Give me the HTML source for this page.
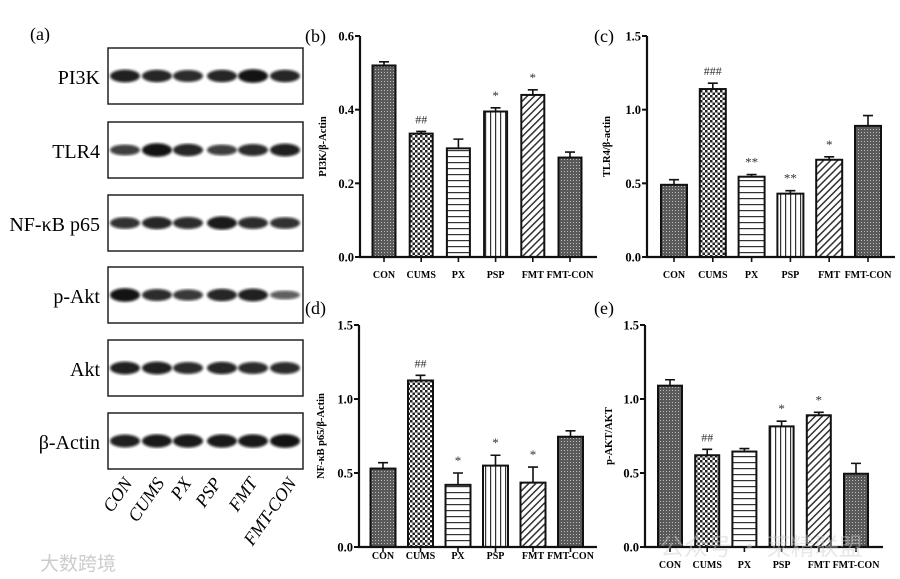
<!DOCTYPE html>
<html><head><meta charset="utf-8"><style>
html,body{margin:0;padding:0;background:#fff;}
svg{display:block;font-family:"Liberation Serif","Noto Serif CJK SC",serif;}
</style></head><body>
<svg id="fig" width="900" height="579" viewBox="0 0 900 579">
<defs>
 <pattern id="pDense" width="3" height="3" patternUnits="userSpaceOnUse"><rect width="3" height="3" fill="#5a5a5a"/><rect width="1" height="1" fill="#bbb"/></pattern>
 <pattern id="pCheck" width="5" height="5" patternUnits="userSpaceOnUse"><rect width="5" height="5" fill="#fff"/><rect width="2.5" height="2.5" fill="#222"/><rect x="2.5" y="2.5" width="2.5" height="2.5" fill="#222"/></pattern>
 <pattern id="pHoriz" width="6" height="6" patternUnits="userSpaceOnUse"><rect width="6" height="6" fill="#fff"/><rect y="0" width="6" height="1.2" fill="#333"/></pattern>
 <pattern id="pVert" width="5" height="5" patternUnits="userSpaceOnUse"><rect width="5" height="5" fill="#fff"/><rect width="1.2" height="5" fill="#333"/></pattern>
 <pattern id="pDiag" width="5" height="5" patternUnits="userSpaceOnUse" patternTransform="rotate(45)"><rect width="5" height="5" fill="#fff"/><rect width="1.5" height="5" fill="#333"/></pattern>
 <filter id="blur"><feGaussianBlur stdDeviation="1.4"/></filter>
</defs>
<g id="blots"></g>
<g id="charts"></g>
<text x="40" y="570" font-size="19" fill="#ccc" font-family="'Noto Sans CJK SC',sans-serif">大数跨境</text>
<text x="660" y="555" font-size="24" fill="#ccc" opacity="0.45" font-family="'Noto Sans CJK SC',sans-serif">公众号 · 莱精联盟</text>
</svg>
<script>
const categories = ["CON","CUMS","PX","PSP","FMT","FMT-CON"];
const pi3kValues = [0.52,0.335,0.295,0.395,0.44,0.27];
const pi3kErrors = [0.01,0.006,0.025,0.01,0.014,0.015];
const pi3kMarks = ["","##","","*","*",""];
const tlr4Values = [0.49,1.14,0.545,0.43,0.66,0.89];
const tlr4Errors = [0.035,0.04,0.015,0.02,0.02,0.07];
const tlr4Marks = ["","###","**","**","*",""];
const nfkbValues = [0.53,1.125,0.42,0.55,0.435,0.745];
const nfkbErrors = [0.04,0.035,0.08,0.07,0.105,0.04];
const nfkbMarks = ["","##","*","*","*",""];
const paktValues = [1.09,0.62,0.645,0.815,0.89,0.495];
const paktErrors = [0.04,0.04,0.02,0.035,0.02,0.07];
const paktMarks = ["","##","","*","*",""];
const ticksB = ["0.0","0.2","0.4","0.6"];
const ticksC = ["0.0","0.5","1.0","1.5"];
const blotNames = ["PI3K","TLR4","NF-κB p65","p-Akt","Akt","β-Actin"];
const blotIntensity = [
 [0.85,0.8,0.75,0.8,0.95,0.8],
 [0.6,0.95,0.8,0.6,0.75,0.85],
 [0.7,0.8,0.75,0.9,0.75,0.7],
 [0.95,0.75,0.65,0.8,0.85,0.35],
 [0.85,0.85,0.75,0.8,0.75,0.75],
 [0.85,0.9,0.9,0.9,0.9,0.95]];

const NS="http://www.w3.org/2000/svg";
function mk(parent,tag,attrs,text){const e=document.createElementNS(NS,tag);for(const k in attrs)e.setAttribute(k,attrs[k]);if(text!==undefined)e.textContent=text;parent.appendChild(e);return e;}
const fills=["url(#pDense)","url(#pCheck)","url(#pHoriz)","url(#pVert)","url(#pDiag)","url(#pDense)"];

function drawChart(cfg){
 const g=mk(document.getElementById('charts'),'g',{});
 
 
 const y=v=>cfg.y0-(v/cfg.max)*(cfg.y0-cfg.yTop);
 const x=i=>cfg.x0+i*cfg.step;
 const t=mk(g,'text',{x:cfg.labelX,y:cfg.labelY,'font-size':18},cfg.panel);
 
 
 cfg.values.forEach((v,i)=>{
  const top=y(v), et=y(v+cfg.errors[i]);
  const b=mk(g,'rect',{x:x(i)-cfg.w/2,y:top,width:cfg.w,height:cfg.y0-top,fill:fills[i],stroke:'#111','stroke-width':2});
  
  
  const e=mk(g,'path',{d:`M${x(i)} ${top}V${et}M${x(i)-5} ${et}H${x(i)+5}`,stroke:'#111','stroke-width':1.6,fill:'none'});
  
  
  if(cfg.marks[i]){const m=mk(g,'text',{x:x(i),y:et-8,'font-size':cfg.marks[i][0]=='#'?12:13,'text-anchor':'middle',fill:'#333'},cfg.marks[i]);
   
   }
  mk(g,'line',{x1:x(i),x2:x(i),y1:cfg.y0,y2:cfg.y0+5,stroke:'#111','stroke-width':1.6});
  const l=mk(g,'text',{x:x(i),y:cfg.catY,'font-size':10,'font-weight':'bold','text-anchor':'middle'},categories[i]);
  
  
 });
 const ax=mk(g,'path',{d:`M${cfg.ax} ${cfg.yTop}V${cfg.y0}H${cfg.xEnd}`,stroke:'#111','stroke-width':2.2,fill:'none'});
 
 
 cfg.ticks.forEach(tk=>{const yy=y(parseFloat(tk));
  mk(g,'line',{x1:cfg.ax-5,x2:cfg.ax,y1:yy,y2:yy,stroke:'#111','stroke-width':2});
  const tl=mk(g,'text',{x:cfg.ax-6,y:yy+4.5,'font-size':12.5,'font-weight':'bold','text-anchor':'end'},tk);
  
  });
 const yt=mk(g,'text',{x:0,y:0,'font-size':10.5,'font-weight':'bold','text-anchor':'middle',transform:`translate(${cfg.titleX},${(cfg.y0+cfg.yTop)/2}) rotate(-90)`},cfg.title);
 
 
}
drawChart({name:'chart-pi3k',panel:'(b)',labelX:305,labelY:42,values:pi3kValues,errors:pi3kErrors,marks:pi3kMarks,ticks:ticksB,max:0.6,y0:257,yTop:36,ax:360,xEnd:597,x0:384,step:37.2,w:23,catY:278,titleX:326,title:'PI3K/β-Actin'});
drawChart({name:'chart-tlr4',panel:'(c)',labelX:594,labelY:42,values:tlr4Values,errors:tlr4Errors,marks:tlr4Marks,ticks:ticksC,max:1.5,y0:257,yTop:36,ax:647,xEnd:895,x0:674,step:38.8,w:26,catY:278,titleX:610,title:'TLR4/β-actin'});
drawChart({name:'chart-nfkb',panel:'(d)',labelX:305,labelY:314,values:nfkbValues,errors:nfkbErrors,marks:nfkbMarks,ticks:ticksC,max:1.5,y0:547,yTop:325,ax:359,xEnd:597,x0:383,step:37.5,w:25,catY:559,titleX:324,title:'NF-κB p65/β-Actin'});
drawChart({name:'chart-pakt',panel:'(e)',labelX:594,labelY:314,values:paktValues,errors:paktErrors,marks:paktMarks,ticks:ticksC,max:1.5,y0:547,yTop:325,ax:645,xEnd:883,x0:670,step:37.2,w:24,catY:568,titleX:612,title:'p-AKT/AKT'});

const bg=document.getElementById('blots');
const pa=mk(bg,'text',{x:30,y:40,'font-size':18},'(a)');


const boxTops=[48,122,195,267,340,413];
const laneX=[125,157,188,222,253,285];
blotNames.forEach((n,r)=>{
 const bt=boxTops[r];
 const box=mk(bg,'rect',{x:108,y:bt,width:195,height:56,fill:'#fff',stroke:'#222','stroke-width':1.5});
 
 
 const lb=mk(bg,'text',{x:100,y:bt+36,'font-size':20,'text-anchor':'end',textLength:0},n);
 lb.removeAttribute('textLength');
 
 
 laneX.forEach((lx,i)=>{
  const v=blotIntensity[r][i];
  const band=mk(bg,'ellipse',{cx:lx,cy:bt+28,rx:15,ry:3+4*v,fill:'#0a0a0a','fill-opacity':0.5+0.5*v,filter:'url(#blur)'});
  
  
 });
});
const laneEnds=[[133,483],[165,483],[192,483],[222,483],[258,483],[297,483]];
categories.forEach((c,i)=>{
 const t=mk(bg,'text',{x:0,y:0,'font-size':18,'font-style':'italic','text-anchor':'end',transform:`translate(${laneEnds[i][0]},${laneEnds[i][1]}) rotate(-55)`},c);
 
 
});
</script>
</body></html>
